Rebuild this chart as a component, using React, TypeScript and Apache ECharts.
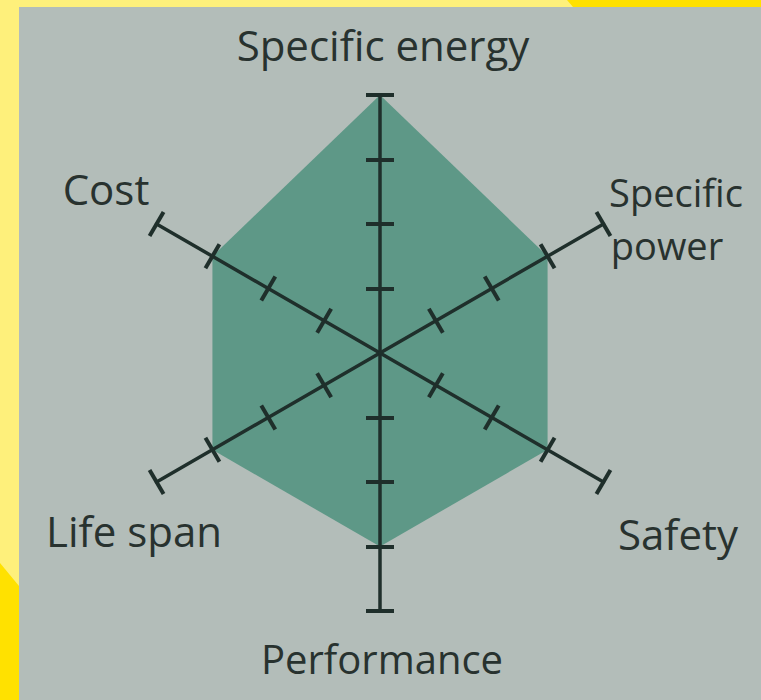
import React, { useEffect, useRef } from "react";
import * as echarts from "echarts";

// Radar indicators, counter-clockwise from the top
const indicators = ["Specific energy", "Cost", "Life span", "Performance", "Safety", "Specific power"];
const values = [4, 3, 3, 3, 3, 3];
const maxValue = 4;
const tickValues = [1, 2, 3, 4];

const LINE = "#1f2f2b";
const FILL = "#5e9887";
const PANEL = "#b3bdb9";
const TEXT = "#28322f";
const FONT = "'Open Sans', sans-serif";

export default function App() {
  const ref = useRef<HTMLDivElement>(null);
  useEffect(() => {
    if (!ref.current) return;
    const chart = echarts.init(ref.current, undefined, { renderer: "svg" });
    const radarBase = (tickLen: number, showLine: boolean) => ({
      center: [380, 353],
      radius: 258,
      startAngle: 90,
      splitNumber: 4,
      shape: "polygon",
      z: 5,
      indicator: indicators.map((n) => ({ name: n, min: 0, max: maxValue })),
      axisName: { show: false },
      splitLine: { show: false },
      splitArea: { show: false },
      axisLabel: { show: false },
      axisLine: { show: showLine, lineStyle: { color: LINE, width: 3.5 } },
      axisTick: {
        show: true,
        length: tickLen,
        customValues: tickValues,
        lineStyle: { color: LINE, width: 4 },
      },
    });
    const label = (text: string, x: number, y: number, size = 42) => ({
      type: "text",
      z: 10,
      x,
      y,
      style: {
        text,
        fill: TEXT,
        font: `500 ${size}px ${FONT}`,
        lineHeight: size,
        align: "center",
        verticalAlign: "middle",
      },
    });
    chart.setOption({
      animation: false,
      backgroundColor: "#fef07b",
      radar: [radarBase(14, true), radarBase(-14, false)],
      graphic: [
        { type: "rect", z: -10, shape: { x: 19, y: 7, width: 742, height: 693 }, style: { fill: PANEL } },
        { type: "polygon", z: -10, shape: { points: [[567, 0], [761, 0], [761, 7], [573, 7]] }, style: { fill: "#ffe100" } },
        { type: "polygon", z: -10, shape: { points: [[0, 563], [19, 586], [19, 700], [0, 700]] }, style: { fill: "#ffe100" } },
        label("Specific energy", 383, 44),
        label("Cost", 106, 188),
        label("Specific", 676, 192, 38),
        label("power", 667, 245, 38),
        label("Life span", 134, 530),
        label("Safety", 678, 533),
        label("Performance", 382, 658, 40),
      ],
      series: [
        {
          type: "radar",
          radarIndex: 0,
          z: 1,
          symbol: "none",
          lineStyle: { width: 0 },
          areaStyle: { color: FILL, opacity: 1 },
          data: [{ value: values, name: "Battery" }],
        },
      ],
    });
    return () => chart.dispose();
  }, []);
  return (
    <div
      ref={ref}
      style={{ position: "fixed", left: 0, top: 0, width: 761, height: 700 }}
    />
  );
}
